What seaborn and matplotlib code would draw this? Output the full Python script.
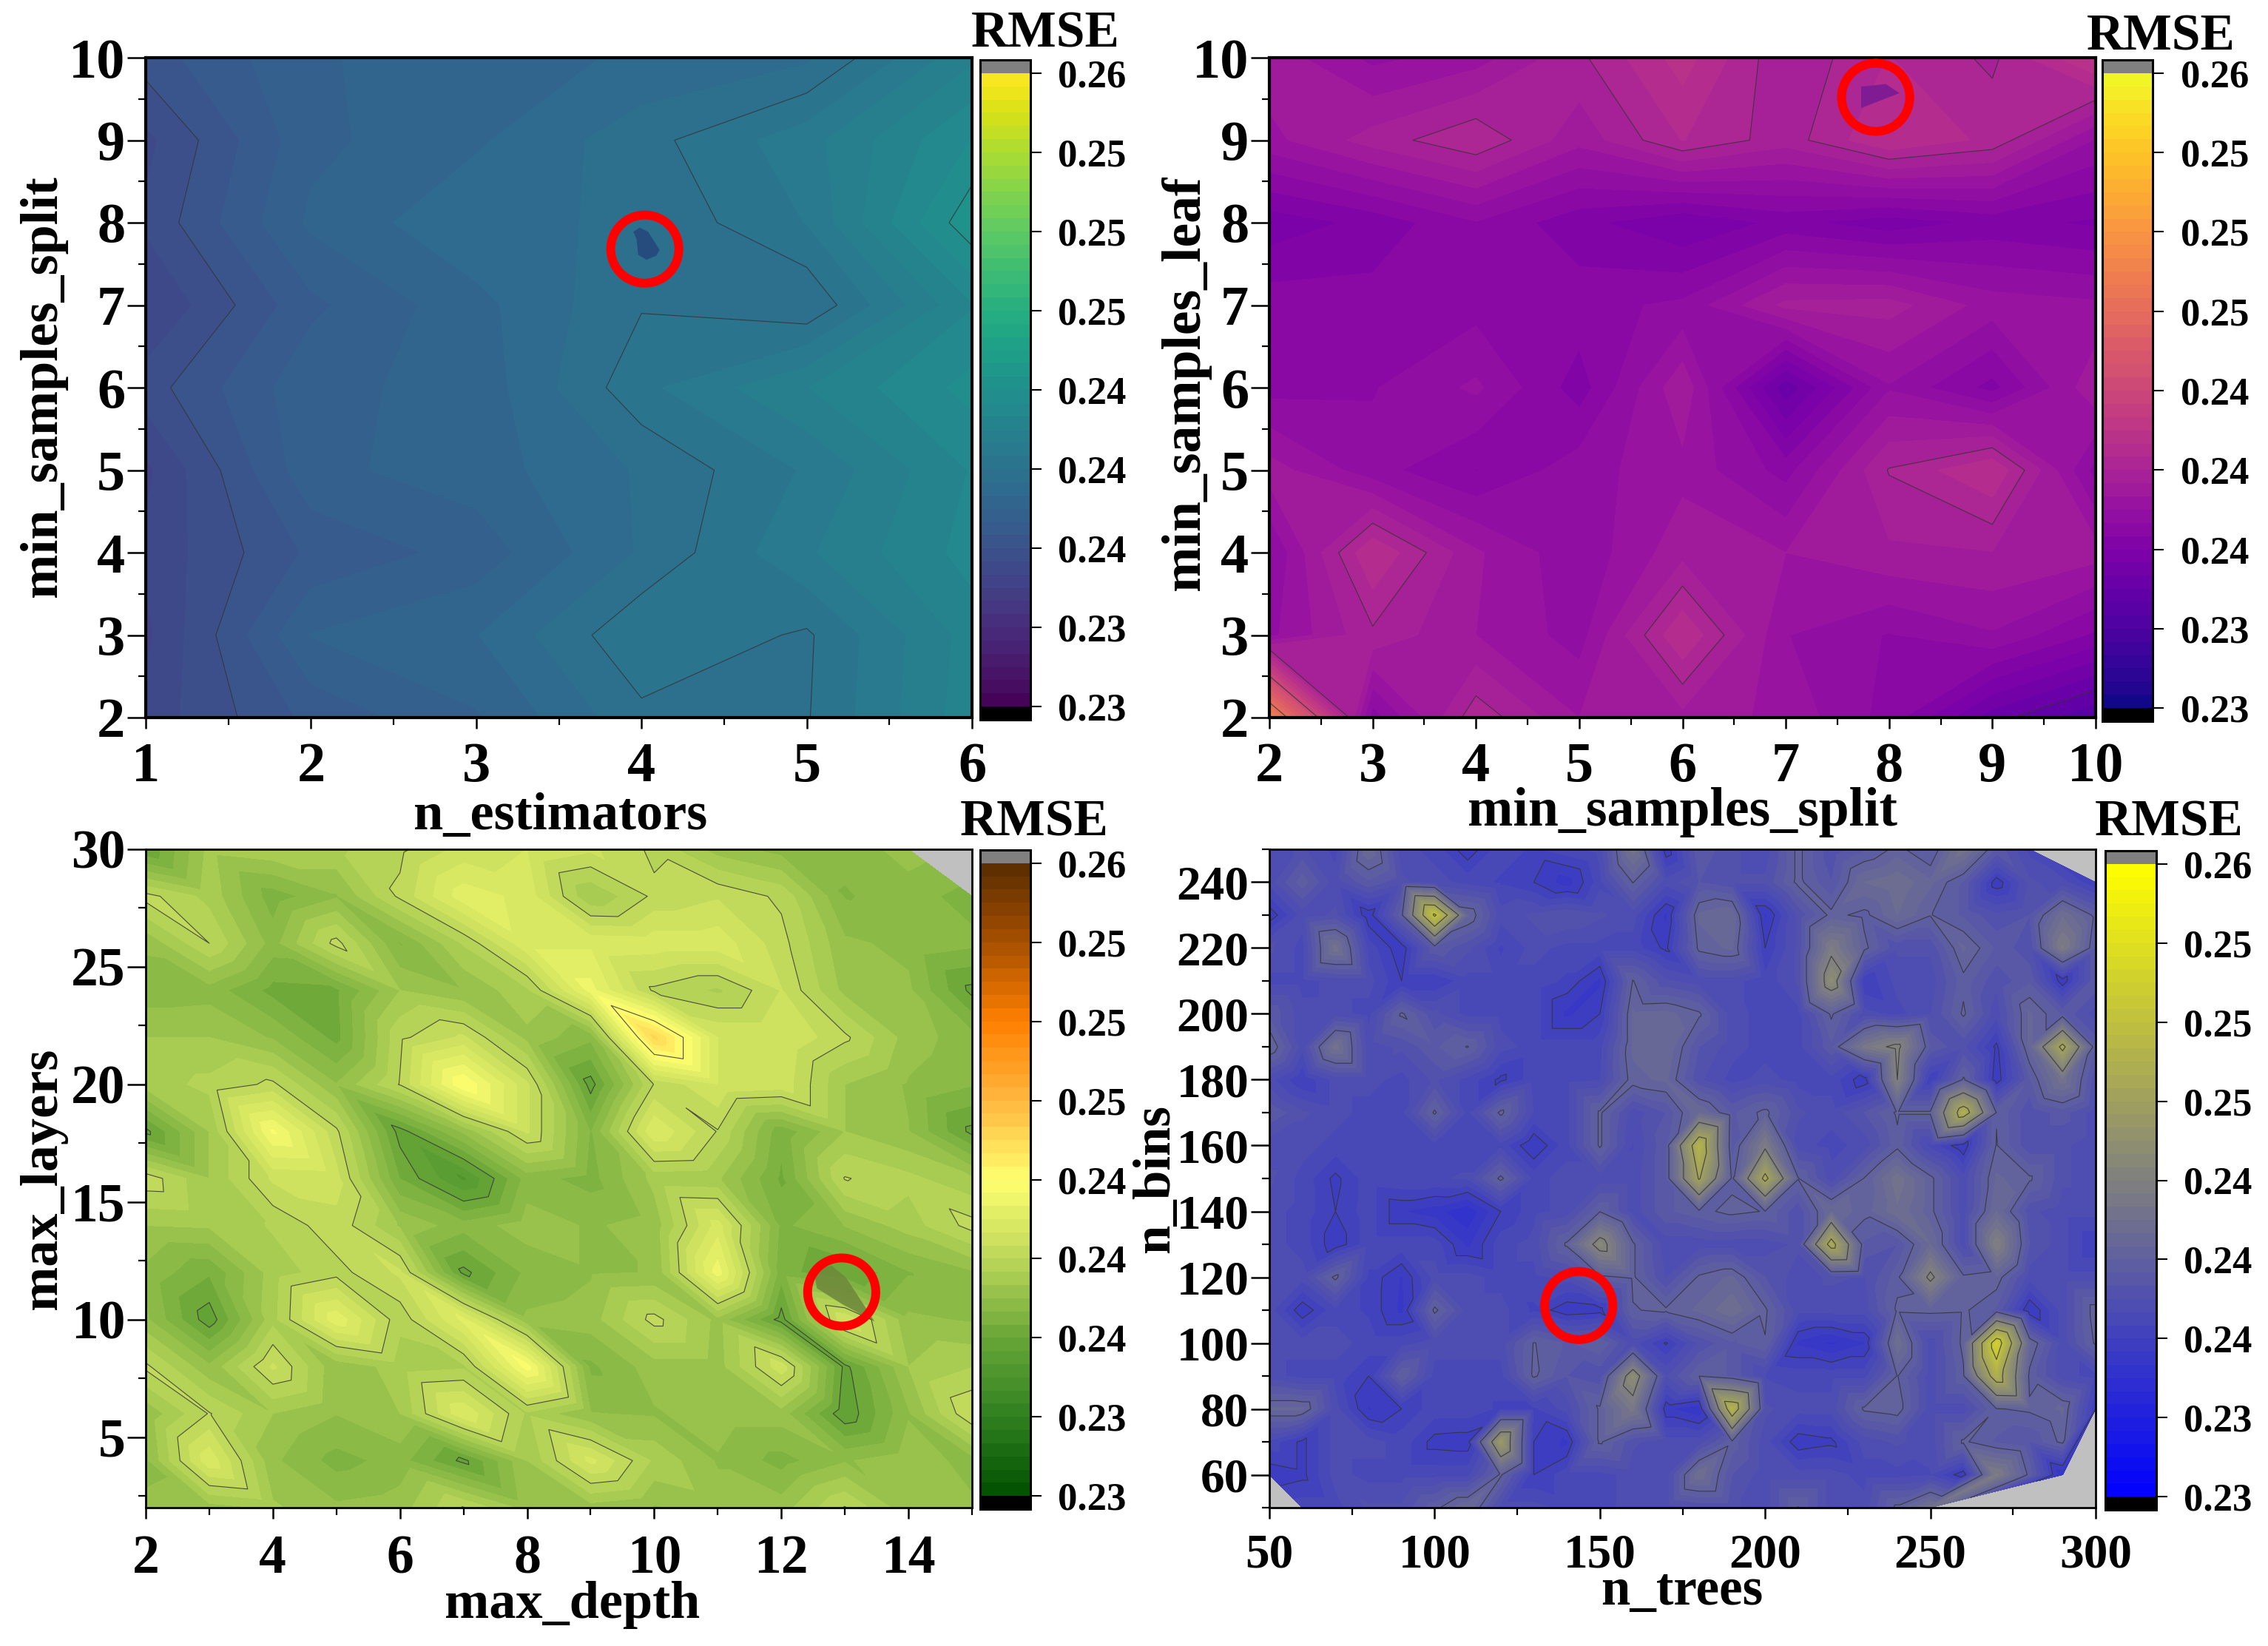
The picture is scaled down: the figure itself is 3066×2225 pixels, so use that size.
import numpy as np
import matplotlib
matplotlib.use('Agg')
import matplotlib.pyplot as plt
import matplotlib.tri as mtri
import seaborn as sns

nan = np.nan

# rmse x 1000, rows run from the top of each panel downwards
estimators_x = [1, 2, 3, 4, 5, 6]
estimators_y = [10, 9, 8, 7, 6, 5, 4, 3, 2]
estimators_rmse = [
    [235.3, 236.8, 237.2, 237.6, 238.0, 240.5],
    [234.2, 236.7, 237.4, 238.5, 239.75, 241.9],
    [234.5, 237.0, 238.0, 238.2, 239.4, 243.0],
    [233.7, 236.1, 237.3, 238.7, 238.2, 241.2],
    [234.7, 236.7, 237.1, 239.2, 240.6, 242.1],
    [233.6, 236.7, 237.2, 238.2, 239.45, 241.3],
    [233.9, 235.75, 236.5, 238.2, 239.9, 241.5],
    [233.6, 236.9, 237.47, 239.3, 238.65, 240.9],
    [234.0, 235.8, 236.8, 238.58, 238.7, 241.0],
]

split_x = [2, 3, 4, 5, 6, 7, 8, 9, 10]
split_y = [10, 9, 8, 7, 6, 5, 4, 3, 2]
split_rmse = [
    [237.9, 236.7, 237.2, 238.6, 240.3, 238.2, 239.4, 238.6, 240.8],
    [237.3, 238.4, 239.3, 237.7, 239.4, 238.4, 240.0, 239.2, 236.8],
    [234.6, 235.2, 236.2, 235.2, 234.4, 235.2, 234.6, 235.2, 234.9],
    [236.0, 235.9, 236.0, 236.0, 236.4, 238.3, 238.4, 237.2, 237.0],
    [236.0, 236.2, 237.0, 235.3, 238.0, 233.3, 236.8, 235.4, 238.0],
    [237.8, 236.5, 235.6, 236.6, 237.3, 236.0, 238.8, 240.0, 236.0],
    [236.2, 240.0, 237.6, 236.4, 237.9, 237.5, 238.0, 238.1, 237.8],
    [236.7, 238.6, 237.5, 236.6, 240.0, 236.9, 236.2, 236.8, 235.5],
    [248.4, 235.9, 239.2, 237.5, 237.9, 237.3, 236.0, 233.4, 231.9],
]

depth_x = [2, 3, 4, 5, 6, 7, 8, 9, 10, 11, 12, 13, 14, 15]
depth_y = [30, 28, 26, 24, 22, 20, 18, 16, 14, 12, 10, 8, 6, 4, 2]
depth_rmse = [
    [235.0, 237.7, 238.0, 238.0, 238.6, 239.6, 240.0, 239.5, 238.6, 237.2, 236.6, 236.4, 237.2, nan],
    [239.0, 237.9, 235.9, 236.8, 238.9, 241.0, 240.4, 237.5, 238.9, 239.3, 238.6, 236.2, 236.5, 236.0],
    [237.0, 238.75, 236.6, 239.0, 236.2, 238.2, 240.5, 240.5, 240.4, 240.4, 239.0, 237.0, 236.7, 236.4],
    [236.5, 236.6, 235.4, 235.5, 237.5, 236.9, 238.0, 241.5, 238.6, 238.0, 239.4, 237.3, 237.0, 234.8],
    [237.5, 237.5, 236.8, 235.4, 238.6, 239.5, 237.3, 236.4, 244.6, 240.0, 240.0, 238.9, 237.2, 236.5],
    [237.8, 238.3, 238.9, 236.9, 238.8, 242.5, 239.5, 234.7, 238.8, 240.0, 239.8, 237.5, 236.8, 236.3],
    [234.8, 237.5, 242.0, 238.9, 234.7, 237.0, 239.5, 236.2, 240.6, 238.7, 235.8, 237.5, 236.9, 234.8],
    [239.2, 237.5, 239.5, 239.6, 235.6, 233.6, 236.5, 236.0, 237.7, 237.6, 235.5, 238.8, 238.3, 237.6],
    [237.5, 237.6, 238.2, 239.2, 237.4, 236.5, 237.2, 236.8, 237.1, 240.3, 236.1, 236.9, 237.8, 239.0],
    [236.7, 235.7, 237.8, 238.5, 239.5, 234.8, 236.4, 236.8, 236.9, 241.6, 235.9, 235.0, 236.2, 236.8],
    [237.0, 234.6, 237.9, 241.1, 238.3, 240.8, 237.0, 237.2, 239.0, 237.3, 234.7, 240.0, 237.0, 236.8],
    [238.9, 237.0, 239.5, 237.0, 237.8, 238.0, 242.2, 236.1, 237.2, 237.2, 239.8, 234.8, 237.5, 238.1],
    [237.0, 238.8, 237.5, 236.9, 237.5, 240.6, 238.0, 236.9, 236.8, 237.2, 237.2, 234.5, 236.8, 239.4],
    [236.7, 240.5, 237.0, 236.0, 236.5, 234.8, 237.5, 240.2, 238.0, 236.8, 236.0, 236.8, 237.3, 236.6],
    [237.0, 237.2, 237.6, 237.0, 237.2, 238.8, 237.2, 237.2, 236.8, 237.2, 237.2, 238.8, 237.0, 237.0],
]

trees_x = [50, 60, 70, 80, 90, 100, 110, 120, 130, 140, 150, 160, 170, 180, 190, 200, 210, 220, 230, 240, 250, 260, 270, 280, 290, 300]
bins_y = [250, 240, 230, 220, 210, 200, 190, 180, 170, 160, 150, 140, 130, 120, 110, 100, 90, 80, 70, 60, 50]
trees_rmse = [
    [236.5, 237, 236, 240, 236.5, 236, 234.5, 236, 235.5, 236, 236.5, 241, 234.5, 238, 237, 236.5, 239, 237, 238, 239, 238, 241, 238, 236, nan, nan],
    [236.5, 238.5, 236.5, 238, 237, 236.5, 236, 235.5, 235, 234, 236, 238.8, 236.5, 237.5, 237, 237, 239, 237.5, 240, 240.5, 239.5, 238, 234.5, 237, 236.5, 235],
    [234.5, 236.5, 237, 234.5, 238.5, 250.5, 239.5, 236.5, 237, 237.5, 237, 236.5, 234.2, 239.5, 240, 234.2, 237, 239, 238.5, 240, 238.8, 238, 237, 237.5, 240.5, 238.5],
    [237, 236, 241, 236, 234.5, 238, 237, 235.5, 236.5, 236, 236, 236, 234.8, 239, 239.5, 235, 237, 242, 239, 237, 237, 239.5, 238, 237, 242, 238],
    [236, 236, 236.5, 236.5, 235, 235, 236, 236, 236, 235.5, 234.2, 238.8, 237, 236.5, 236.5, 235.8, 237, 244, 235, 236.5, 236.5, 238.5, 237, 238, 234.5, 238],
    [238, 236.5, 236.5, 236, 238.9, 237, 236, 236, 236, 234.2, 235, 239.5, 239.6, 238.9, 236.5, 236, 236, 238.9, 236.5, 236, 236.8, 238.9, 236.5, 239.5, 238, 236.5],
    [239.5, 236.5, 241, 236.5, 237, 238, 238.8, 236.5, 236, 236, 236, 239.5, 240, 237.5, 236.5, 236, 236, 238, 241.5, 243, 238, 237, 234.8, 239.5, 247, 238],
    [236.5, 235, 236.5, 236.5, 236, 237, 236, 234.8, 236, 236, 236.2, 239.2, 239.5, 237, 236, 236.5, 236, 236, 234.5, 242.5, 235, 238.9, 234.5, 238, 241, 237],
    [238, 237, 236.5, 236, 236, 238.9, 236, 239, 236.2, 236, 238.9, 236.5, 237.5, 240, 238, 239, 237, 236.5, 237.5, 238.9, 238.9, 248, 238.7, 237, 237.8, 236.5],
    [236.5, 236.5, 236, 236, 236, 236, 236, 236, 234.3, 236, 238.9, 236.2, 238, 248.5, 237.8, 242, 236.5, 236, 236.5, 238.5, 236, 234.4, 238.8, 237, 237, 236.5],
    [237, 236, 234.8, 236, 236.2, 236.2, 236.3, 239, 236, 236.5, 236.5, 236.5, 238, 246.5, 238.5, 247, 238.8, 236.5, 238.8, 241, 239, 236.5, 239.5, 238.9, 237, 236.5],
    [236.5, 236, 235, 236, 234.4, 234, 233.2, 235, 236, 236.5, 238.7, 236.5, 238, 238.5, 239, 238.7, 237, 240, 239, 240.5, 239, 236.5, 240, 237, 236.5, 236.5],
    [236.5, 236, 234.5, 236, 236, 236, 234.2, 236, 236.5, 238.9, 243.5, 238.9, 236.5, 236.5, 236.5, 236.5, 237, 247.5, 238, 237.5, 240, 236.5, 242.5, 237.5, 236.5, 235],
    [236.5, 236.5, 239, 235.5, 234.3, 236.5, 236.5, 236, 236, 236.5, 238.5, 238.9, 236.8, 238.9, 239.5, 237.5, 236.5, 237, 236.8, 238.5, 243, 238.9, 239.2, 236.5, 236.5, 236.5],
    [236.5, 234.5, 236, 235.5, 234.2, 239, 236.5, 236.5, 235.5, 234.5, 234.7, 238.7, 238.9, 239.5, 240.5, 238.9, 236.5, 236.5, 236.5, 238.9, 239, 238.9, 238, 234.3, 236.5, 239.2],
    [236.5, 236.5, 236.5, 236, 236, 236.5, 236.5, 236.5, 238.8, 238, 238.7, 236.5, 234.9, 237, 238, 238.7, 234.2, 233.6, 234.3, 240.5, 236.5, 239, 252, 239.5, 236.5, 238.9],
    [236.5, 236, 236, 235, 238.7, 236, 236, 236, 238.9, 237.5, 237, 244, 236.8, 238.7, 238, 236.2, 236, 236, 236, 238.8, 236.5, 238.6, 248, 238.5, 236.5, 236],
    [239.5, 239.5, 236.5, 234.3, 235, 236, 236, 235.5, 235.5, 236.5, 238.9, 241.5, 234.5, 233.8, 248.5, 237, 236.5, 236.5, 238.9, 239.2, 236.5, 236.5, 238.7, 238.9, 239.5, 235],
    [236, 234.8, 236.5, 236.5, 236, 234.7, 234.6, 245.5, 235, 234.2, 238.9, 237, 236.5, 236.5, 238.5, 236.5, 234.5, 234.8, 236.5, 237, 236.5, 238.9, 238, 237.5, 239, nan],
    [234.5, 234.8, 236.5, 236, 236, 236, 236, 238.9, 235, 236, 236, 236.5, 236.5, 240.5, 237.5, 236.5, 236.5, 236.5, 236, 236, 236.2, 234.5, 242, 238.5, 233.5, nan],
    [nan, 236, 236, 237, 237, 238.5, 240, 236.5, 236.5, 236, 236, 236.5, 236.5, 237, 237, 236.5, 238.8, 236.5, 236.5, 239, 241, nan, nan, nan, nan, nan],
]

# colour bar
rmse_min = 227.5
rmse_max = 257.5
cbar_labels = ['0.23', '0.23', '0.24', '0.24', '0.24', '0.25', '0.25', '0.25', '0.26']

# best point of each search and the small region around it
best_points = [(4.02, 7.68), (7.87, 9.52), (12.95, 11.17), (143.6, 111.4)]
best_regions = [
    ([3.95, 3.99, 4.04, 4.11, 4.09, 4.03, 3.98, 3.97], [7.89, 7.94, 7.89, 7.67, 7.6, 7.55, 7.61, 7.8]),
    ([7.73, 7.97, 8.1, 7.73], [9.65, 9.68, 9.57, 9.39]),
    ([12.51, 12.79, 13.02, 13.47, 12.96, 12.56], [12.08, 12.3, 11.78, 9.91, 10.65, 11.33]),
    None,
]
best_colors = ['#26497c', '#7a1a94', '#6f8a3c', None]

sns.set_style('ticks')
plt.rcParams['font.family'] = ['Liberation Serif', 'DejaVu Serif']
plt.rcParams['font.weight'] = 'bold'
plt.rcParams['axes.labelweight'] = 'bold'

W, H = 3066, 2225
fig = plt.figure(figsize=(W / 100, H / 100), dpi=100, facecolor='white')


def box(x0, y0, x1, y1):
    # pixel box in the image -> figure fractions
    return [x0 / W, 1 - y1 / H, (x1 - x0) / W, (y1 - y0) / H]


def down_triangles(zz):
    # split each cell along its upper-left to lower-right diagonal
    nrow, ncol = zz.shape
    index = np.full(zz.shape, -1)
    index[~np.isnan(zz)] = np.arange((~np.isnan(zz)).sum())
    out = []
    for r in range(nrow - 1):
        for c in range(ncol - 1):
            a, b, d, e = index[r, c], index[r, c + 1], index[r + 1, c], index[r + 1, c + 1]
            if a >= 0 and e >= 0 and b >= 0:
                out.append([a, b, e])
            if a >= 0 and e >= 0 and d >= 0:
                out.append([a, e, d])
            if a < 0 and b >= 0 and d >= 0 and e >= 0:
                out.append([b, e, d])
            if b < 0 and a >= 0 and d >= 0 and e >= 0:
                out.append([a, e, d])
    return out


earth_cmap = sns.blend_palette(['#005000', '#308020', '#68a638', '#bcd75a', '#ffff70',
                                '#ffb840', '#ff8000', '#a85000', '#5a2d00'], as_cmap=True)
blue_cmap = sns.blend_palette(['#0000ff', '#808080', '#ffff00'], as_cmap=True)

levels = np.linspace(rmse_min, rmse_max, 49)
tick_levels = levels[::6]

panels = [
    dict(x=estimators_x, y=estimators_y, z=estimators_rmse, cmap=sns.color_palette('viridis', as_cmap=True),
         ax=(197, 78, 1314, 970), cax=(1325, 81, 1393, 973), spine=3, mesh='grid', lines=tick_levels,
         xlabel='n_estimators', xlab=(758, 1121), ylabel='min_samples_split', ylab=(76, 522),
         title=(1413, 63), fs=55, lfs=52, xpad=13,
         xlim=(1, 6), ylim=(2, 10), xt=range(1, 7), yt=range(2, 11),
         xm=np.arange(1.5, 6, 1), ym=np.arange(2.5, 10, 1)),
    dict(x=split_x, y=split_y, z=split_rmse, cmap=sns.color_palette('plasma', as_cmap=True),
         ax=(1716, 78, 2833, 970), cax=(2842, 81, 2910, 975), spine=3, mesh='grid',
         lines=[233.1, 238.75, 242.5, 246.25],
         xlabel='min_samples_split', xlab=(2274, 1116), ylabel='min_samples_leaf', ylab=(1621, 518),
         title=(2921, 67), fs=55, lfs=53, xpad=13,
         xlim=(2, 10), ylim=(2, 10), xt=range(2, 11), yt=range(2, 11),
         xm=np.arange(2.5, 10, 1), ym=np.arange(2.5, 10, 1)),
    dict(x=depth_x, y=depth_y, z=depth_rmse, cmap=earth_cmap,
         ax=(197, 1148, 1314, 2038), cax=(1325, 1149, 1393, 2040), spine=2, mesh='down', lines=tick_levels,
         xlabel='max_depth', xlab=(774, 2187), ylabel='max_layers', ylab=(76, 1593),
         title=(1398, 1129), fs=53, lfs=52, xpad=15,
         xlim=(2, 15), ylim=(2, 30), xt=range(2, 15, 2), yt=range(5, 31, 5),
         xm=list(range(3, 16, 2)), ym=np.arange(2.5, 30, 5)),
    dict(x=trees_x, y=bins_y, z=trees_rmse, cmap=blue_cmap,
         ax=(1716, 1148, 2833, 2038), cax=(2846, 1150, 2915, 2041), spine=2, mesh='tri', lines=tick_levels,
         xlabel='n_trees', xlab=(2274, 2169), ylabel='n_bins', ylab=(1580, 1593),
         title=(2932, 1129), fs=47, lfs=51, xpad=14,
         xlim=(50, 300), ylim=(50, 250), xt=range(50, 301, 50), yt=range(60, 241, 20),
         xm=list(range(75, 300, 50)), ym=list(range(50, 251, 20))),
]

for i, p in enumerate(panels):
    ax = fig.add_axes(box(*p['ax']), facecolor='#c0c0c0')
    cax = fig.add_axes(box(*p['cax']))

    xx, yy = np.meshgrid(p['x'], p['y'])
    zz = np.array(p['z'], dtype=float)
    cmap = p['cmap'].with_extremes(under='black', over='#808080')

    if p['mesh'] == 'grid':
        cf = ax.contourf(xx, yy, zz, levels=levels, cmap=cmap, extend='both')
        ax.contour(xx, yy, zz, levels=p['lines'], colors='#333333', linewidths=0.8, alpha=0.85)
    else:
        # cells without a run are left out so the hull cuts the corners
        keep = ~np.isnan(zz)
        if p['mesh'] == 'down':
            tri = mtri.Triangulation(xx[keep], yy[keep], down_triangles(zz))
        else:
            tri = mtri.Triangulation(xx[keep], yy[keep])
        cf = ax.tricontourf(tri, zz[keep], levels=levels, cmap=cmap, extend='both')
        ax.tricontour(tri, zz[keep], levels=p['lines'], colors='#333333', linewidths=0.8, alpha=0.85)

    if best_regions[i] is not None:
        ax.fill(best_regions[i][0], best_regions[i][1], color=best_colors[i], alpha=0.9, lw=0)
    ax.scatter([best_points[i][0]], [best_points[i][1]], s=4400, facecolors='none',
               edgecolors='#ff0000', linewidths=8.6, zorder=5, clip_on=False)

    ax.set_xlim(*p['xlim'])
    ax.set_ylim(*p['ylim'])
    ax.set_xticks(list(p['xt']))
    ax.set_yticks(list(p['yt']))
    ax.set_xticks(list(p['xm']), minor=True)
    ax.set_yticks(list(p['ym']), minor=True)
    ax.tick_params(axis='x', which='major', direction='out', length=11, width=1.8,
                   labelsize=p['fs'], pad=p['xpad'], color='black', labelcolor='black')
    ax.tick_params(axis='y', which='major', direction='out', length=18, width=1.8,
                   labelsize=p['fs'], pad=2, color='black', labelcolor='black')
    ax.tick_params(axis='x', which='minor', direction='out', length=7, width=1.6, color='black')
    ax.tick_params(axis='y', which='minor', direction='out', length=7, width=1.6, color='black')
    for s in ax.spines.values():
        s.set_visible(True)
        s.set_linewidth(p['spine'])
        s.set_color('black')

    fig.text(p['xlab'][0] / W, 1 - p['xlab'][1] / H, p['xlabel'], ha='center', va='baseline',
             fontsize=p['lfs'], fontweight='bold', color='black')
    fig.text(p['ylab'][0] / W, 1 - p['ylab'][1] / H, p['ylabel'], ha='center', va='baseline',
             rotation=90, rotation_mode='anchor', fontsize=p['lfs'], fontweight='bold', color='black')
    fig.text(p['title'][0] / W, 1 - p['title'][1] / H, 'RMSE', ha='center', va='baseline',
             fontsize=50, fontweight='bold', color='black')

    cbar = fig.colorbar(cf, cax=cax, extend='both', extendrect=True, extendfrac='auto')
    cbar.set_ticks(list(tick_levels), labels=cbar_labels)
    cbar.ax.minorticks_off()
    cbar.ax.tick_params(length=11, width=1.5, labelsize=38, pad=16, color='black', labelcolor='black')
    cbar.outline.set_linewidth(2.2)
    cbar.outline.set_edgecolor('black')

fig.savefig('out.png', dpi=100)
